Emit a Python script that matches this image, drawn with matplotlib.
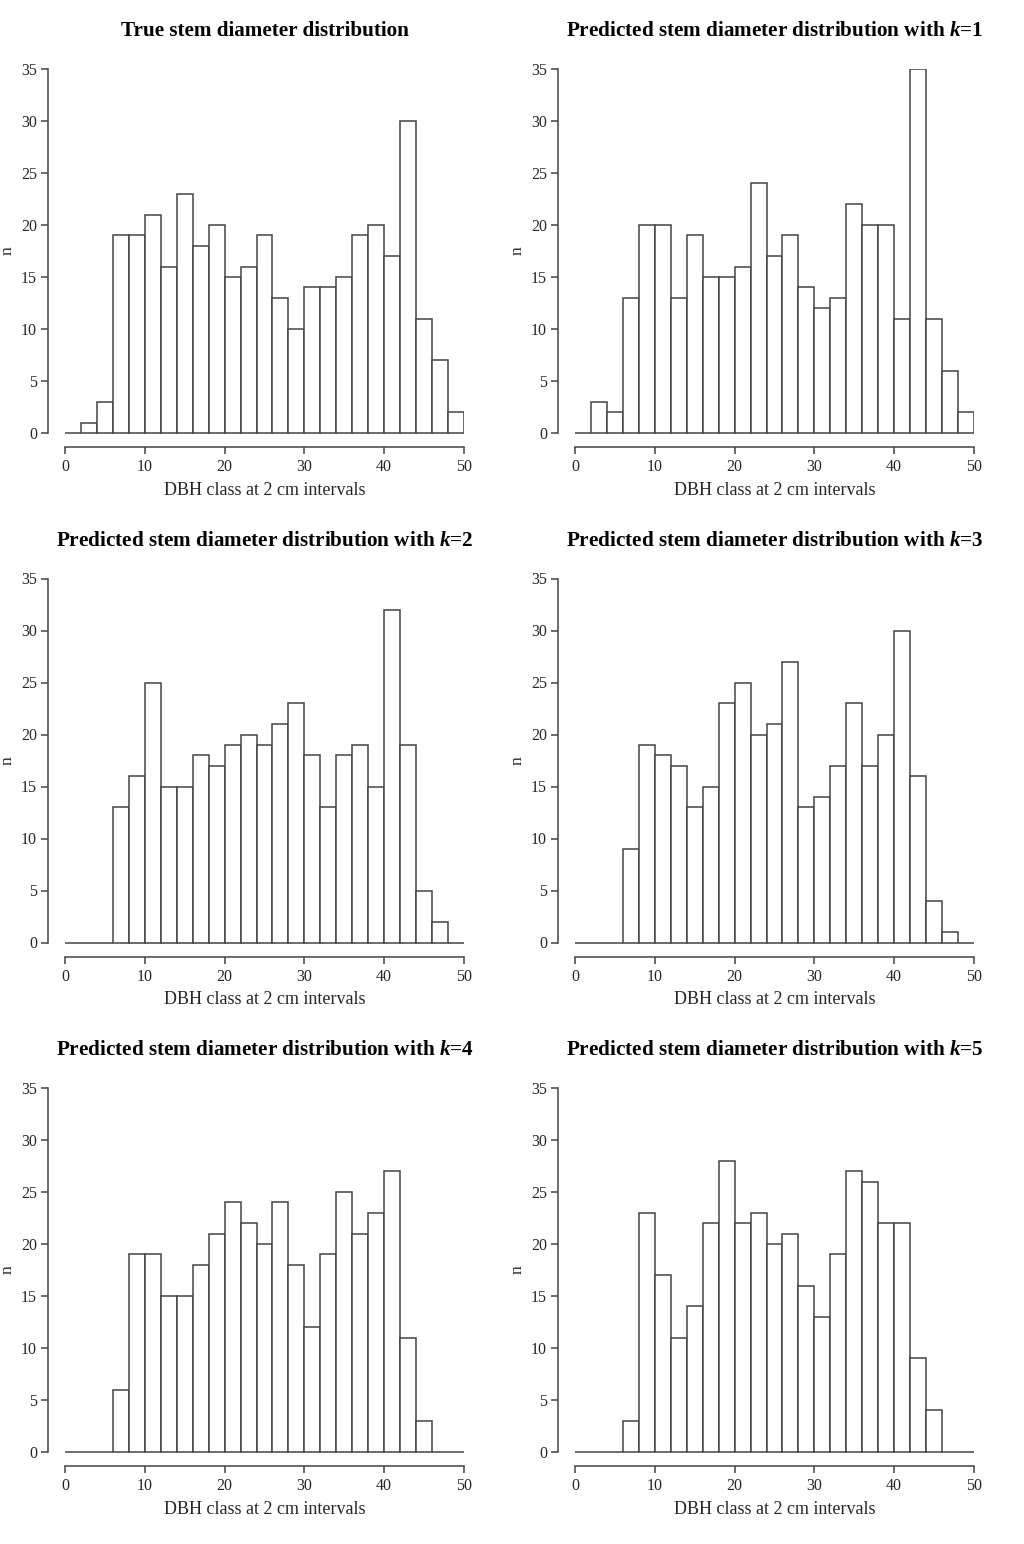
import matplotlib
matplotlib.use("Agg")
import matplotlib.pyplot as plt
import matplotlib.transforms as mtransforms
import numpy as np

# 2 cm DBH classes, 0-50 cm
bin_edges = np.arange(0, 52, 2)

counts_true = [0, 1, 3, 19, 19, 21, 16, 23, 18, 20, 15, 16, 19, 13, 10, 14, 14, 15, 19, 20, 17, 30, 11, 7, 2]
counts_k1 = [0, 3, 2, 13, 20, 20, 13, 19, 15, 15, 16, 24, 17, 19, 14, 12, 13, 22, 20, 20, 11, 35, 11, 6, 2]
counts_k2 = [0, 0, 0, 13, 16, 25, 15, 15, 18, 17, 19, 20, 19, 21, 23, 18, 13, 18, 19, 15, 32, 19, 5, 2, 0]
counts_k3 = [0, 0, 0, 9, 19, 18, 17, 13, 15, 23, 25, 20, 21, 27, 13, 14, 17, 23, 17, 20, 30, 16, 4, 1, 0]
counts_k4 = [0, 0, 0, 6, 19, 19, 15, 15, 18, 21, 24, 22, 20, 24, 18, 12, 19, 25, 21, 23, 27, 11, 3, 0, 0]
counts_k5 = [0, 0, 0, 3, 23, 17, 11, 14, 22, 28, 22, 23, 20, 21, 16, 13, 19, 27, 26, 22, 22, 9, 4, 0, 0]

titles = [
    "True stem diameter distribution",
    "Predicted stem diameter distribution with $k$=1",
    "Predicted stem diameter distribution with $k$=2",
    "Predicted stem diameter distribution with $k$=3",
    "Predicted stem diameter distribution with $k$=4",
    "Predicted stem diameter distribution with $k$=5",
]
all_counts = [counts_true, counts_k1, counts_k2, counts_k3, counts_k4, counts_k5]

x_ticks = [0, 10, 20, 30, 40, 50]
y_ticks = [0, 5, 10, 15, 20, 25, 30, 35]
x_label = "DBH class at 2 cm intervals"
y_label = "n"

line_col = "#444444"
text_col = "#262626"

plt.rcParams["font.family"] = ["Liberation Serif", "DejaVu Serif"]
plt.rcParams["mathtext.fontset"] = "custom"
plt.rcParams["mathtext.rm"] = "Liberation Serif:bold"
plt.rcParams["mathtext.it"] = "Liberation Serif:italic:bold"


def main():
    W, H = 1024, 1544
    fig = plt.figure(figsize=(W / 100, H / 100), dpi=100)

    # pixel layout of one panel (top-left one), others shifted
    px_yaxis, px_x0, px_x50 = 48, 65, 464
    px_top, px_y0, px_xaxis = 69, 433, 447
    col_step, row_step = 510, 509.5

    x_left = (px_yaxis - px_x0) * 50 / (px_x50 - px_x0)
    y_bottom = -(px_xaxis - px_y0) * 35 / (px_y0 - px_top)

    for i, (counts, title) in enumerate(zip(all_counts, titles)):
        r, c = divmod(i, 2)
        left = px_yaxis + c * col_step
        right = px_x50 + c * col_step
        top = px_top + r * row_step
        bottom = px_xaxis + r * row_step
        ax = fig.add_axes([left / W, 1 - bottom / H, (right - left) / W, (bottom - top) / H])

        ax.bar(bin_edges[:-1], counts, width=2, align="edge",
               facecolor="white", edgecolor=line_col, linewidth=1.1)

        ax.set_xlim(x_left, 50)
        ax.set_ylim(y_bottom, 35)

        ax.spines["top"].set_visible(False)
        ax.spines["right"].set_visible(False)
        ax.spines["left"].set_bounds(0, 35)
        ax.spines["bottom"].set_bounds(0, 50)
        for s in ("left", "bottom"):
            ax.spines[s].set_color(line_col)
            ax.spines[s].set_linewidth(1.1)

        ax.set_xticks(x_ticks)
        ax.set_yticks(y_ticks)
        ax.tick_params(axis="both", colors=line_col, labelcolor=text_col,
                       length=5, width=1.1, labelsize=11.5)
        ax.tick_params(axis="y", pad=3)
        ax.tick_params(axis="x", pad=4)

        trans = mtransforms.blended_transform_factory(ax.transData, ax.transAxes)
        ax.text(25, 1.1, title, transform=trans, ha="center", va="center",
                fontsize=15.2, fontweight="bold", color="black")
        ax.text(25, -0.114, x_label, transform=trans, ha="center", va="center",
                fontsize=13, color=text_col)
        ax.text(-0.096, (17.5 - y_bottom) / (35 - y_bottom),
                y_label, transform=ax.transAxes, rotation=90,
                ha="center", va="center", fontsize=12.5, color=text_col)

    fig.savefig("out.png", dpi=100, facecolor="white")


if __name__ == '__main__':
    main()
